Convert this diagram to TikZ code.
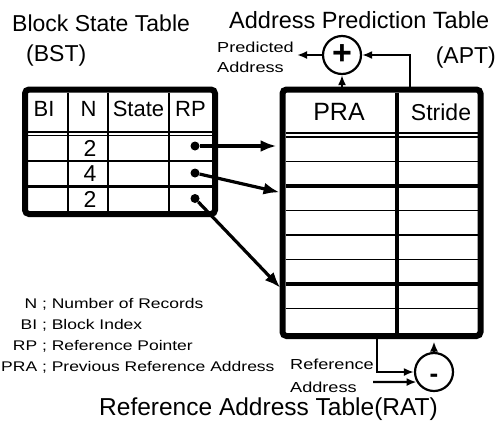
\documentclass[tikz,border=0pt]{standalone}
\usepackage{fontspec}
\setmainfont{Liberation Sans}
\newfontfamily\widesans[FakeStretch=1.25]{Liberation Sans}
\usetikzlibrary{arrows.meta,calc,positioning}

\begin{document}
\begin{tikzpicture}[
  x=1pt,y=-1pt,
  tblframe/.style={draw,line width=6pt,rounded corners=4pt,inner sep=0pt},
  cellline/.style={line width=2.6pt},
  rowline/.style={line width=1.7pt},
  grpline/.style={line width=4.2pt},
  dbl/.style={line width=1.4pt},
  hdr/.style={inner sep=0pt,font=\fontsize{22}{22}\selectfont},
  heading/.style={inner sep=0pt,font=\fontsize{23}{23}\selectfont},
  small/.style={inner sep=0pt,align=left,font=\widesans\fontsize{14.5}{20}\selectfont},
  dot/.style={circle,fill,inner sep=0pt,minimum size=9pt},
  op/.style={circle,draw,line width=2.2pt,minimum size=38pt,inner sep=0pt},
  arr/.style={-{Latex[length=16pt,width=12pt]},line width=3.2pt},
  sarr/.style={-{Latex[length=10pt,width=8pt]},line width=2.2pt}
]
  \useasboundingbox (0,0) rectangle (498,421);

  % the two tables
  \node[tblframe,minimum width=190pt,minimum height=124.5pt] (bst) at (120,151.75) {};
  \node[tblframe,minimum width=198pt,minimum height=246.5pt] (apt) at (381.5,212.75) {};

  % BST grid
  \foreach \xx in {68,108,169} \draw[cellline] (\xx,92.5) -- (\xx,211);
  \draw[dbl] (28,132) -- (212,132) (28,135.5) -- (212,135.5);
  \draw[cellline] (28,161) -- (212,161) (28,186.5) -- (212,186.5);

  % APT grid
  \draw[line width=3.6pt] (397,92.5) -- (397,333);
  \draw[dbl] (285.5,133) -- (477.5,133) (285.5,137) -- (477.5,137);
  \foreach \yy in {161.5,210.5,235,259.5,308.5} \draw[rowline] (285.5,\yy) -- (477.5,\yy);
  \draw[grpline] (285.5,186) -- (477.5,186) (285.5,284) -- (477.5,284);

  \node[hdr] (bi) at (44,109) {BI};
  \node[hdr] (n) at (88.5,109) {N};
  \node[hdr] (state) at (138.5,109) {State};
  \node[hdr] (rp) at (190.5,109) {RP};
  \node[hdr,font=\fontsize{23}{23}\selectfont] (n1) at (90,148) {2};
  \node[hdr,font=\fontsize{23}{23}\selectfont] (n2) at (90,174) {4};
  \node[hdr,font=\fontsize{23}{23}\selectfont] (n3) at (90,199) {2};
  \node[hdr,font=\fontsize{25}{25}\selectfont] (pra) at (339,112) {PRA};
  \node[hdr,font=\fontsize{23}{23}\selectfont] (stride) at (441,112) {Stride};

  % reference pointers
  \node[dot] (rp1) at (195,146) {};
  \node[dot] (rp2) at (195,173) {};
  \node[dot] (rp3) at (195,198.5) {};
  \coordinate (in1) at (rp1 -| apt.west);
  \coordinate (in2) at (282.5,193);
  \coordinate (in3) at (282.5,290);
  \draw[arr,shorten >=3pt] (rp1) -- (in1);
  \draw[arr,shorten >=3pt] (rp2) -- (in2);
  \draw[arr,shorten >=3pt] (rp3) -- (in3);

  % adder on top
  \node[op,font=\fontsize{34}{34}\selectfont\bfseries] (plus) at (342,55) {+};
  \coordinate (stridetop) at (410,89.5);
  \coordinate (pout) at (297,55);
  \draw[sarr] (plus.south |- apt.north) -- (plus.south);
  \draw[sarr] (stridetop) |- (plus.east);
  \draw[sarr] (plus.west) -- (pout);
  \node[small,anchor=east] (predlabel) at (294,57.5) {Predicted\\Address};

  % subtractor below
  \node[op,font=\fontsize{26}{26}\selectfont\bfseries,text height=21pt,text depth=0pt] (minus) at (434,372) {-};
  \coordinate (praout) at (377,336);
  \coordinate (rin) at (373,382);
  \draw[sarr,shorten >=2.5pt] (minus.north) -- (minus.north |- apt.south);
  \draw[sarr] (praout) |- (minus.west);
  \draw[sarr] (rin) -- (minus.210);
  \node[small,font=\widesans\fontsize{14.5}{23}\selectfont,anchor=east] (reflabel) at (374,375.5) {Reference\\Address};

  % titles
  \node[heading,anchor=base west] (bsttitle) at (12,31) {Block State Table};
  \node[heading,anchor=base west] (bstabbr) at (26,61.5) {(BST)};
  \node[heading,font=\fontsize{23.5}{23.5}\selectfont,anchor=base west] (apttitle) at (229,28) {Address Prediction Table};
  \node[heading,anchor=base east] (aptabbr) at (496,63) {(APT)};
  \node[heading,font=\fontsize{24.5}{24.5}\selectfont,anchor=base west] (rattitle) at (99,415) {Reference Address Table(RAT)};

  % legend
  \node[anchor=north west,inner sep=0pt,font=\widesans\fontsize{14}{21}\selectfont] (legend) at (1,293.3)
    {\begin{tabular}{@{}r@{ ; }l@{}}
      N & Number of Records\\
      BI & Block Index\\
      RP & Reference Pointer\\
      PRA & Previous Reference Address
    \end{tabular}};
\end{tikzpicture}
\end{document}
